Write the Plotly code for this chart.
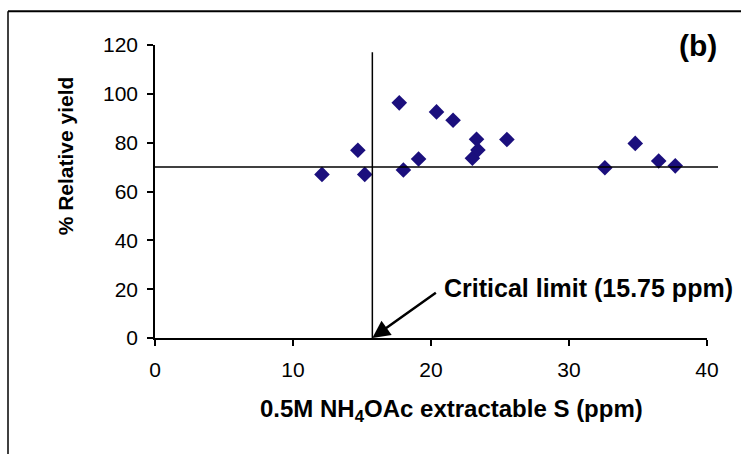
import plotly.graph_objects as go

# Data
s_ppm = [12.1, 14.7, 15.2, 17.7, 18.0, 19.1, 20.4, 21.6, 23.0, 23.4, 23.3, 25.5, 32.6, 34.8, 36.5, 37.7]
rel_yield = [67.0, 76.9, 67.0, 96.3, 68.8, 73.3, 92.6, 89.2, 73.6, 77.0, 81.4, 81.3, 69.7, 79.7, 72.5, 70.5]
critical_limit = 15.75
yield_limit = 70
x_ticks = [0, 10, 20, 30, 40]
y_ticks = [0, 20, 40, 60, 80, 100, 120]

FONT = "Liberation Sans, Arial, sans-serif"

fig = go.Figure()
fig.add_trace(go.Scatter(
    x=s_ppm, y=rel_yield, mode="markers",
    marker=dict(symbol="diamond", size=12, color="#1B0F7D", line=dict(width=0)),
    cliponaxis=False, showlegend=False, hoverinfo="x+y",
))

# Critical limit lines
fig.add_shape(type="line", xref="x", yref="y", x0=critical_limit, x1=critical_limit, y0=0, y1=117,
              line=dict(color="black", width=1.5))
fig.add_shape(type="line", xref="paper", yref="y", x0=0, x1=1.02, y0=yield_limit, y1=yield_limit,
              line=dict(color="black", width=1.5))

# Outer frame (left and top edges visible)
fig.add_shape(type="line", xref="paper", yref="paper", x0=-0.2663, x1=-0.2663, y0=-0.5, y1=1.115,
              line=dict(color="black", width=1.5), layer="above")
fig.add_shape(type="line", xref="paper", yref="paper", x0=-0.2663, x1=1.1, y0=1.115, y1=1.115,
              line=dict(color="black", width=2), layer="above")

fig.add_annotation(x=critical_limit, y=0, xref="x", yref="y",
                   ax=70, ay=-50, xanchor="left", yanchor="middle",
                   text="<b>Critical limit (15.75 ppm)</b>", showarrow=True,
                   arrowhead=2, arrowsize=1.4, arrowwidth=2.5, arrowcolor="black",
                   startstandoff=8,
                   font=dict(family=FONT, size=25, color="black"))

fig.add_annotation(x=1.0, y=1.0, xref="paper", yref="paper", showarrow=False,
                   text="<b>(b)</b>", xanchor="right", yanchor="middle", xshift=12, yshift=0,
                   font=dict(family=FONT, size=30, color="black"))

fig.add_annotation(x=-0.163, y=0.62, xref="paper", yref="paper", showarrow=False,
                   text="<b>% Relative yield</b>", textangle=-90, xanchor="center", yanchor="middle",
                   font=dict(family=FONT, size=21, color="black"))

fig.add_annotation(x=0.538, y=-0.246, xref="paper", yref="paper", showarrow=False,
                   text="<b>0.5M NH<sub>4</sub>OAc extractable S (ppm)</b>",
                   xanchor="center", yanchor="middle",
                   font=dict(family=FONT, size=24, color="black"))

fig.update_layout(
    width=741, height=454,
    margin=dict(l=155, r=34, t=45, b=116),
    paper_bgcolor="white", plot_bgcolor="white",
    font=dict(family=FONT, size=21, color="black"),
    xaxis=dict(range=[0, 40], tickvals=x_ticks, showgrid=False, zeroline=False,
               showline=True, linecolor="black", linewidth=1.5,
               ticks="outside", ticklen=6, tickwidth=1.5, tickcolor="black",
               ticklabelstandoff=6),
    yaxis=dict(range=[0, 120], tickvals=y_ticks, showgrid=False, zeroline=False,
               showline=True, linecolor="black", linewidth=1.5,
               ticks="outside", ticklen=6, tickwidth=1.5, tickcolor="black",
               ticklabelstandoff=5),
)

fig.write_html("out.html", config={"displayModeBar": False},
               post_script="document.body.style.margin='0';")
